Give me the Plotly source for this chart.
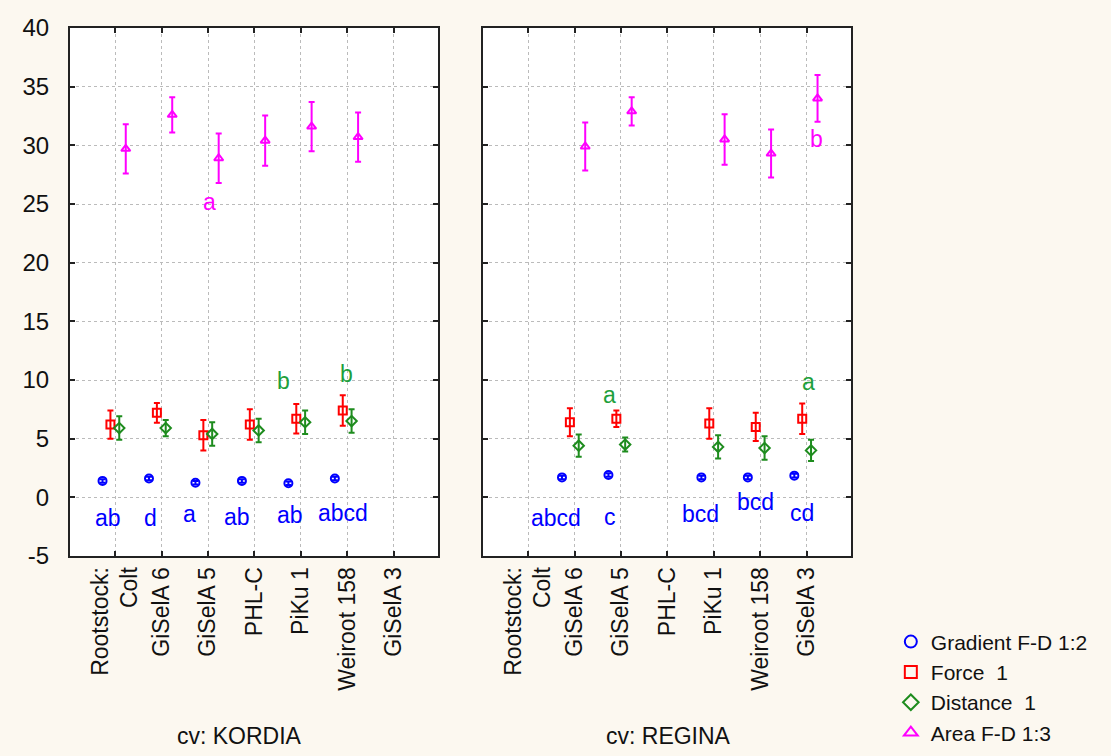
import plotly.graph_objects as go

# ---------------- data ----------------
categories = ["Rootstock:<br>Colt", "GiSelA 6", "GiSelA 5", "PHL-C", "PiKu 1", "Weiroot 158", "GiSelA 3"]
cat_idx = list(range(len(categories)))

series_names = ["Gradient F-D 1:2", "Force  1", "Distance  1", "Area F-D 1:3"]

# KORDIA (None = no data)
kordia_gradient = [1.4, 1.6, 1.25, 1.4, 1.2, 1.6, None]
kordia_gradient_err = [0.15, 0.15, 0.15, 0.15, 0.15, 0.15, None]
kordia_force = [6.2, 7.2, 5.3, 6.2, 6.7, 7.4, None]
kordia_force_err = [1.2, 0.85, 1.3, 1.3, 1.25, 1.3, None]
kordia_distance = [5.9, 5.9, 5.4, 5.7, 6.4, 6.5, None]
kordia_distance_err = [1.0, 0.7, 1.0, 1.0, 1.0, 1.0, None]
kordia_area = [29.7, 32.6, 28.9, 30.4, 31.6, 30.7, None]
kordia_area_err = [2.1, 1.5, 2.1, 2.15, 2.1, 2.1, None]

# REGINA
regina_gradient = [None, 1.7, 1.9, None, 1.7, 1.7, 1.85]
regina_gradient_err = [None, 0.15, 0.15, None, 0.15, 0.15, 0.15]
regina_force = [None, 6.4, 6.7, None, 6.3, 6.0, 6.7]
regina_force_err = [None, 1.2, 0.7, None, 1.3, 1.2, 1.3]
regina_distance = [None, 4.4, 4.5, None, 4.3, 4.2, 4.0]
regina_distance_err = [None, 0.95, 0.6, None, 1.0, 1.0, 0.9]
regina_area = [None, 29.9, 32.9, None, 30.5, 29.3, 34.0]
regina_area_err = [None, 2.05, 1.2, None, 2.15, 2.05, 2.0]

# significance letters: (text, x in category units, y value)
kordia_letters_gradient = [("ab", -0.15, -1.75), ("d", 0.77, -1.75), ("a", 1.6, -1.4),
                           ("ab", 2.62, -1.65), ("ab", 3.76, -1.5), ("abcd", 4.9, -1.3)]
kordia_letters_distance = [("b", 3.63, 9.9), ("b", 4.97, 10.5)]
kordia_letters_area = [("a", 2.04, 25.2)]
regina_letters_gradient = [("abcd", 0.6, -1.75), ("c", 1.76, -1.7), ("bcd", 3.72, -1.4),
                           ("bcd", 4.9, -0.4), ("cd", 5.9, -1.3)]
regina_letters_distance = [("a", 1.76, 8.7), ("a", 6.04, 9.8)]
regina_letters_area = [("b", 6.2, 30.5)]

y_ticks = [-5, 0, 5, 10, 15, 20, 25, 30, 35, 40]
y_tick_text = ["-5", "0", "5", "10", "15", "20", "25", "30", "35", "40"]
panel_titles = ["cv: KORDIA", "cv: REGINA"]

# ---------------- style ----------------
colors = ["#0000FF", "#FF0000", "#1E8C1E", "#FF00FF"]
letter_colors = ["#0000FF", "#FF0000", "#1EA03C", "#FF00FF"]
symbols = ["circle-open", "square-open", "diamond-open", "triangle-up-open"]
offsets = [-0.27, -0.1, 0.09, 0.23]
BG = "#FCF8F0"
FONT = "Liberation Sans, Arial, sans-serif"

fig = go.Figure()

panels = [
    ([kordia_gradient, kordia_force, kordia_distance, kordia_area],
     [kordia_gradient_err, kordia_force_err, kordia_distance_err, kordia_area_err], "x", "y"),
    ([regina_gradient, regina_force, regina_distance, regina_area],
     [regina_gradient_err, regina_force_err, regina_distance_err, regina_area_err], "x2", "y2"),
]

for p, (vals_list, errs_list, xa, ya) in enumerate(panels):
    for s in range(4):
        xs, ys, es = [], [], []
        for i, (v, e) in enumerate(zip(vals_list[s], errs_list[s])):
            if v is None:
                continue
            xs.append(cat_idx[i] + offsets[s])
            ys.append(v)
            es.append(e)
        fig.add_trace(go.Scatter(
            x=xs, y=ys, mode="markers", name=series_names[s],
            xaxis=xa, yaxis=ya, showlegend=(p == 0),
            marker=dict(symbol=symbols[s], color=colors[s], size=8,
                        line=dict(width=2, color=colors[s])),
            error_y=dict(type="data", array=es, visible=True, color=colors[s],
                         thickness=2, width=3),
        ))

annotations = []
letter_sets = [
    (kordia_letters_gradient, 0, "x", "y"), (kordia_letters_distance, 2, "x", "y"),
    (kordia_letters_area, 3, "x", "y"),
    (regina_letters_gradient, 0, "x2", "y2"), (regina_letters_distance, 2, "x2", "y2"),
    (regina_letters_area, 3, "x2", "y2"),
]
for letters, s, xa, ya in letter_sets:
    for txt, lx, ly in letters:
        annotations.append(dict(text=txt, x=lx, y=ly, xref=xa, yref=ya, showarrow=False,
                                font=dict(family=FONT, size=23, color=letter_colors[s]),
                                xanchor="center", yanchor="middle"))

TITLE_FONT = dict(family="Liberation Sans Narrow, Arial Narrow, " + FONT, size=23, color="#111")
annotations.append(dict(text=panel_titles[0], x=0.2164, y=-0.341, xref="paper", yref="paper",
                        showarrow=False, xanchor="center", yanchor="middle", font=TITLE_FONT))
annotations.append(dict(text=panel_titles[1], x=0.7657, y=-0.341, xref="paper", yref="paper",
                        showarrow=False, xanchor="center", yanchor="middle", font=TITLE_FONT))

xaxis_common = dict(
    range=[-0.97, 6.95], tickmode="array", tickvals=cat_idx, ticktext=categories,
    tickangle=-90, tickfont=dict(family=FONT, size=23, color="#111"),
    showline=True, linecolor="#222", linewidth=2, mirror="ticks",
    ticks="inside", ticklen=5, tickwidth=2, tickcolor="#222",
    showgrid=True, gridcolor="#BBBBBB", griddash="dot", gridwidth=1,
    zeroline=False, automargin=False,
)
yaxis_common = dict(
    range=[-5, 40], tickmode="array", tickvals=y_ticks, ticktext=y_tick_text,
    tickfont=dict(family=FONT, size=24, color="#111"), ticklabelstandoff=14,
    showline=True, linecolor="#222", linewidth=2, mirror="ticks",
    ticks="inside", ticklen=5, tickwidth=2, tickcolor="#222",
    showgrid=True, gridcolor="#BBBBBB", griddash="dot", gridwidth=1,
    zeroline=False, automargin=False, domain=[0, 1],
)

fig.update_layout(
    width=1111, height=756,
    margin=dict(l=70, r=260, t=28, b=200, autoexpand=False),
    paper_bgcolor=BG, plot_bgcolor="white",
    xaxis=dict(xaxis_common, domain=[0, 0.4712]),
    xaxis2=dict(xaxis_common, domain=[0.5288, 1.0]),
    yaxis=dict(yaxis_common),
    yaxis2=dict(yaxis_common, anchor="x2", showticklabels=False),
    annotations=annotations,
    showlegend=True,
    legend=dict(x=1.051, y=-0.124, xanchor="left", yanchor="top",
                bgcolor="rgba(0,0,0,0)", font=dict(family=FONT, size=21, color="#111"),
                itemsizing="constant", tracegroupgap=0),
)

fig.write_html("out.html")
